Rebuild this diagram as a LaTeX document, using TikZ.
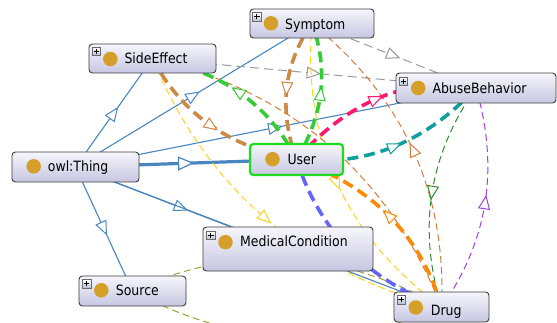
\documentclass[tikz,border=0pt]{standalone}
\usepackage{fontspec}
\setmainfont{DejaVu Sans}[FakeStretch=0.88]
\usetikzlibrary{arrows.meta,decorations.markings,backgrounds}
\definecolor{boxtop}{HTML}{F6F6FB}
\definecolor{boxbot}{HTML}{C6C6E2}
\definecolor{boxline}{HTML}{3C3C3C}
\definecolor{gold}{HTML}{D4A02A}
\definecolor{isablue}{HTML}{4A86BE}
\definecolor{grayl}{HTML}{9B9B9B}
\definecolor{tanc}{HTML}{CC8844}
\definecolor{grn}{HTML}{33CC33}
\definecolor{pnk}{HTML}{FF1770}
\definecolor{tealc}{HTML}{0FA09C}
\definecolor{orng}{HTML}{FF8800}
\definecolor{vio}{HTML}{6464FF}
\definecolor{yel}{HTML}{FFD11A}
\definecolor{brn}{HTML}{D87A3C}
\definecolor{dgrn}{HTML}{2C8C2C}
\definecolor{purp}{HTML}{A040E8}
\definecolor{olv}{HTML}{A3A03C}
\definecolor{ugreen}{HTML}{1EDB1E}
\definecolor{plusbot}{HTML}{B4C0D2}
\definecolor{plusline}{HTML}{6A6A6A}
\begin{document}
\begin{tikzpicture}[x=1pt,y=-1pt,
  cls/.style={draw=boxline, line width=0.9pt, rounded corners=3.5pt, top color=boxtop, bottom color=boxbot, inner sep=0pt},
  plusicon/.style={draw=plusline, line width=0.5pt, top color=white, bottom color=plusbot, minimum size=8.5pt, inner sep=0pt,
    path picture={\draw[black, line width=0.9pt]
      ([xshift=-2.7pt]path picture bounding box.center) -- ([xshift=2.7pt]path picture bounding box.center)
      ([yshift=-2.7pt]path picture bounding box.center) -- ([yshift=2.7pt]path picture bounding box.center);}},
  dot/.style={circle, fill=gold, minimum size=14.5pt, inner sep=0pt},
  lbl/.style={anchor=base west, inner sep=0pt, font=\fontsize{14.2}{16}\selectfont, text=black},
  isa/.style={draw=isablue, line width=1.1pt},
  gry/.style={draw=grayl, line width=1pt, dash pattern=on 9pt off 5pt},
  thk/.style={line width=3.6pt, dash pattern=on 11pt off 6pt},
  thn/.style={line width=1pt, dash pattern=on 7pt off 4pt},
  midarrow/.style={postaction={decorate, decoration={markings, mark=at position 0.5 with {\pgfsetdash{}{0pt}\arrow[xshift=7pt]{Triangle[length=14.5pt, width=12pt, fill=white, line width=1pt]}}}}},
  bigarrow/.style={postaction={decorate, decoration={markings, mark=at position 0.5 with {\pgfsetdash{}{0pt}\arrow[xshift=8pt]{Triangle[length=16pt, width=14pt, fill=white, line width=1.2pt]}}}}},
]
\useasboundingbox (0,0) rectangle (557,323);

% ---- classes ----
\node[cls, minimum width=124pt, minimum height=29pt] (sym) at (312,23.5) {};
\node[plusicon] (sym-p) at (256.8,16.8) {};
\node[dot] (sym-d) at (271,23.3) {};
\node[lbl] (sym-t) at (285,29.3) {Symptom};

\node[cls, minimum width=127pt, minimum height=29pt] (se) at (152.5,58.5) {};
\node[plusicon] (se-p) at (96.3,51.5) {};
\node[dot] (se-d) at (110.3,59) {};
\node[lbl] (se-t) at (124.3,64) {SideEffect};

\node[cls, minimum width=160pt, minimum height=30pt] (ab) at (476,88) {};
\node[plusicon] (ab-p) at (403.3,81.3) {};
\node[dot] (ab-d) at (418.2,88) {};
\node[lbl] (ab-t) at (432.3,93.3) {AbuseBehavior};

\node[cls, minimum width=127pt, minimum height=30pt] (ot) at (75.5,167) {};
\node[dot] (ot-d) at (33.7,166.3) {};
\node[lbl] (ot-t) at (47.7,171.7) {owl:Thing};

\node[cls, draw=ugreen, line width=2.2pt, minimum width=93pt, minimum height=31pt] (u) at (296.5,159.5) {};
\node[dot] (u-d) at (272.5,159.2) {};
\node[lbl] (u-t) at (287.3,164.3) {User};

\node[cls, minimum width=170pt, minimum height=44pt] (mc) at (288,249) {};
\node[plusicon] (mc-p) at (210.8,235.5) {};
\node[dot] (mc-d) at (225.5,242.2) {};
\node[lbl] (mc-t) at (240,246.7) {MedicalCondition};

\node[cls, minimum width=107pt, minimum height=30pt] (src) at (132.5,291) {};
\node[plusicon] (src-p) at (86.7,283.7) {};
\node[dot] (src-d) at (101.3,290.3) {};
\node[lbl] (src-t) at (115.7,295.7) {Source};

\node[cls, minimum width=95pt, minimum height=30pt] (d) at (441.5,307) {};
\node[plusicon] (d-p) at (401,299.7) {};
\node[dot] (d-d) at (415.8,307.5) {};
\node[lbl] (d-t) at (430.7,315) {Drug};

% ---- connectors ----
\begin{scope}[on background layer]
\fill[white] (0,0) rectangle (557,323);
\clip (0,0) rectangle (557,323);
% subclass links
\draw[isa, midarrow] (ot.center) -- (se.center);
\draw[isa, midarrow] (ot.center) -- (sym.center);
\draw[isa, midarrow] (ot.center) -- (ab.center);
\draw[isa, midarrow] (ot.center) -- (mc.center);
\draw[isa, midarrow] (ot.center) -- (src.center);
\draw[isa, midarrow] (ot.center) -- (d.center);
\draw[isa, line width=3.2pt, bigarrow] (ot.center) -- (u.center);
% thin dashed
\draw[gry, midarrow] (se.center) -- (ab.center);
\draw[gry, midarrow] (sym.center) -- (ab.center);
\draw[olv, thn] (src.center) .. controls (235.5,243.3) and (338.5,248.7) .. (d.center);
\draw[olv, thn] (src.center) .. controls (235.5,346.3) and (338.5,351.7) .. (d.center);
\draw[yel, thn, midarrow] (se.center) .. controls (206.1,188.3) and (302.5,271.2) .. (d.center);
\draw[yel, thn, midarrow] (sym.center) .. controls (302.2,141.7) and (345.3,236.2) .. (d.center);
\draw[brn, thn, midarrow] (d.center) .. controls (446.6,192.2) and (403.5,97.7) .. (sym.center);
\draw[brn, thn] (se.center) .. controls (291.6,91.5) and (388,174.4) .. (d.center);
\draw[dgrn, thn, midarrow] (ab.center) .. controls (428.8,155) and (417.3,228) .. (d.center);
\draw[purp, thn, midarrow] (d.center) .. controls (488,241.3) and (499.5,168.3) .. (ab.center);
% thick dashed
\draw[tanc, thk, midarrow] (se.center) .. controls (181.2,113.5) and (229.2,147.1) .. (u.center);
\draw[tanc, thk, midarrow] (sym.center) .. controls (283.5,64.1) and (278.4,109.5) .. (u.center);
\draw[grn, thk, midarrow] (u.center) .. controls (269.2,104.5) and (221.2,70.9) .. (se.center);
\draw[grn, thk, midarrow] (u.center) .. controls (323.7,114.9) and (328.8,69.5) .. (sym.center);
\draw[pnk, thk, midarrow] (u.center) .. controls (349.3,100) and (409.2,76.1) .. (ab.center);
\draw[tealc, thk, midarrow] (u.center) .. controls (365.3,166.7) and (425.2,142.8) .. (ab.center);
\draw[vio, thk] (u.center) .. controls (319.5,231.4) and (367.9,280.5) .. (d.center);
\draw[orng, thk, midarrow] (d.center) .. controls (421.2,236.1) and (372.8,187) .. (u.center);
\end{scope}
\end{tikzpicture}
\end{document}
